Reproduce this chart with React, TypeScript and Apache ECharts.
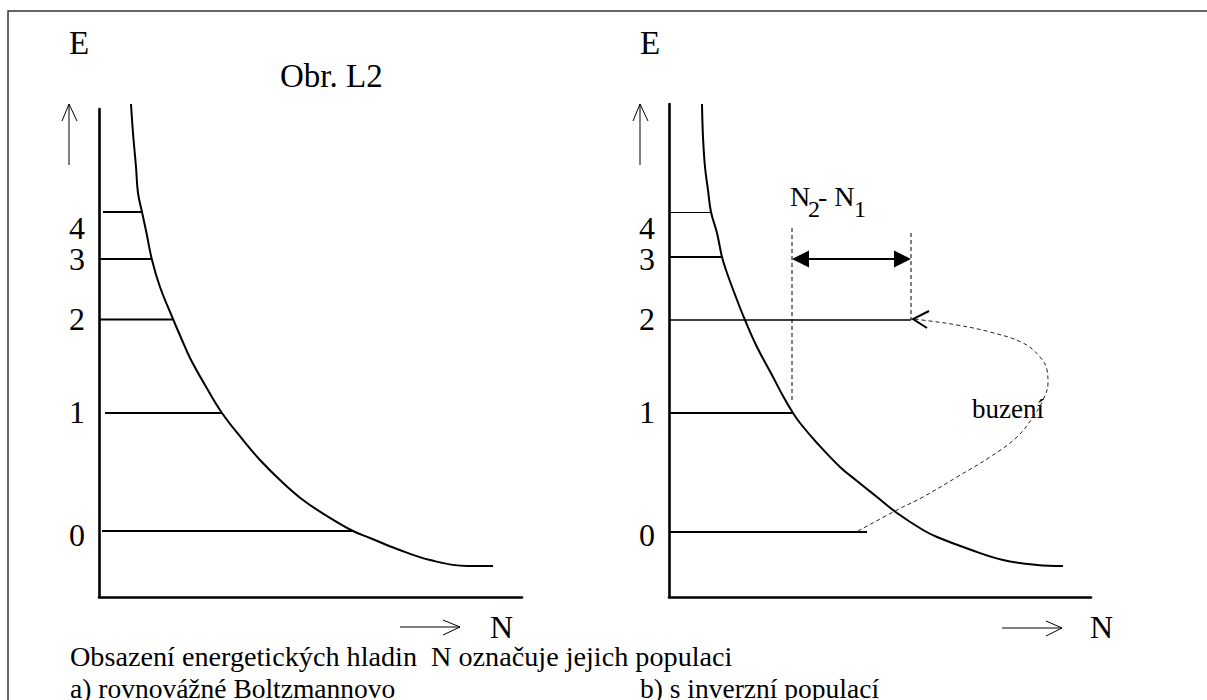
import React, { useEffect, useRef } from "react";
import * as echarts from "echarts";

// ---- data (N = population, E = energy; arbitrary units) ----
const levelNames = ["0", "1", "2", "3", "4"];
const levelLabelE = [6.2, 18.5, 27.8, 33.85, 36.9];
const leftLevelE = [6.6, 18.4, 27.75, 33.8, 38.5];
const leftLevelStartN = [0.3, 0.6, 0, 0, 0.4];
const leftLevelEndN = [25.4, 12.3, 7.4, 5.3, 4.4];
const rightLevelE = [6.5, 18.4, 27.7, 34.0, 38.45];
const rightLevelStartN = [0, 0, 0, 0, 0];
const rightLevelEndN = [19.8, 12.4, 24.2, 5.3, 4.2];

const leftCurveN = [3.2, 3.4, 3.7, 3.9, 4.3, 4.75, 5.3, 6.1, 7.4, 8.3, 9.1, 10.6, 12.3, 14.4, 16.1, 18.1, 20.4, 22.8, 25.4, 27.1, 29.8, 33.1, 36.8, 39.4];
const leftCurveE = [49.3, 46.4, 43.0, 40.4, 38.5, 36.4, 33.7, 31.0, 27.8, 25.7, 23.9, 21.2, 18.4, 15.7, 13.7, 11.7, 9.7, 8.1, 6.6, 5.9, 4.8, 3.7, 3.1, 3.1];

const rightCurveN = [3.3, 3.4, 3.6, 3.9, 4.2, 4.8, 5.3, 5.8, 6.8, 7.6, 8.8, 10.4, 11.4, 12.4, 13.1, 14.8, 17.1, 18.8, 20.8, 22.8, 25.4, 26.8, 30.1, 33.4, 36.8, 39.4];
const rightCurveE = [49.3, 46.0, 43.0, 40.7, 38.5, 36.4, 34.0, 32.4, 29.7, 27.7, 25.0, 22.0, 20.1, 18.4, 17.4, 15.4, 13.0, 11.6, 10.0, 8.4, 6.7, 6.0, 4.75, 3.7, 3.2, 3.1];

// excitation ("buzení") path from level 0 to level 2
const pumpN = [18.9, 22.8, 25.4, 28.8, 32.1, 34.8, 36.4, 37.4, 37.9, 37.8, 37.1, 35.4, 32.1, 28.8, 26.1, 24.4];
const pumpE = [6.6, 8.7, 10.0, 12.0, 14.0, 16.0, 18.0, 19.7, 21.4, 22.7, 24.0, 25.4, 26.5, 27.2, 27.6, 27.8];

// N2 - N1 marker
const gapN = [12.3, 24.2];
const gapTopE = [36.9, 36.4];
const gapBottomE = [19.5, 27.7];
const gapArrowE = 33.8;

const FONT = '"Liberation Serif", "Times New Roman", serif';

export default function App() {
  const ref = useRef<HTMLDivElement>(null);
  useEffect(() => {
    document.body.style.margin = "0";
    const chart = echarts.init(ref.current!, null, { renderer: "svg" });

    const axisCommon: any = {
      type: "value",
      axisTick: { show: false },
      axisLabel: { show: false },
      splitLine: { show: false },
      axisLine: { show: true, onZero: false, lineStyle: { color: "#000", width: 2.6 } },
    };

    const lineBase: any = {
      type: "line",
      symbol: "none",
      showSymbol: false,
      clip: false,
      silent: true,
      z: 3,
    };

    const series: any[] = [];
    levelNames.forEach((_, i) => {
      series.push({
        ...lineBase,
        xAxisIndex: 0,
        yAxisIndex: 0,
        data: [[leftLevelStartN[i], leftLevelE[i]], [leftLevelEndN[i], leftLevelE[i]]],
        lineStyle: { color: "#000", width: 2 },
      });
    });
    const rightWidths = [2.2, 2.2, 1.3, 2.2, 1.1];
    levelNames.forEach((_, i) => {
      series.push({
        ...lineBase,
        xAxisIndex: 1,
        yAxisIndex: 1,
        data: [[rightLevelStartN[i], rightLevelE[i]], [rightLevelEndN[i], rightLevelE[i]]],
        lineStyle: { color: "#000", width: rightWidths[i] },
      });
    });
    series.push({
      ...lineBase,
      xAxisIndex: 0,
      yAxisIndex: 0,
      smooth: 0.4,
      data: leftCurveN.map((n, i) => [n, leftCurveE[i]]),
      lineStyle: { color: "#000", width: 2 },
    });
    series.push({
      ...lineBase,
      xAxisIndex: 1,
      yAxisIndex: 1,
      smooth: 0.4,
      data: rightCurveN.map((n, i) => [n, rightCurveE[i]]),
      lineStyle: { color: "#000", width: 2 },
    });
    gapN.forEach((n, i) => {
      series.push({
        ...lineBase,
        xAxisIndex: 1,
        yAxisIndex: 1,
        data: [[n, gapTopE[i]], [n, gapBottomE[i]]],
        lineStyle: { color: "#000", width: 1, type: [4, 3] },
      });
    });
    series.push({
      ...lineBase,
      xAxisIndex: 1,
      yAxisIndex: 1,
      smooth: 0.4,
      data: pumpN.map((n, i) => [n, pumpE[i]]),
      lineStyle: { color: "#222", width: 1, type: [4, 3] },
    });
    series.push({
      type: "custom",
      xAxisIndex: 1,
      yAxisIndex: 1,
      silent: true,
      z: 4,
      data: [[gapN[0], gapN[1], gapArrowE]],
      encode: { x: [0, 1], y: 2 },
      renderItem: (_p: any, api: any) => {
        const a = api.coord([api.value(0), api.value(2)]);
        const b = api.coord([api.value(1), api.value(2)]);
        return {
          type: "group",
          children: [
            { type: "line", shape: { x1: a[0] + 10, y1: a[1], x2: b[0] - 10, y2: b[1] }, style: { stroke: "#000", lineWidth: 2 } },
            { type: "polygon", shape: { points: [[a[0], a[1]], [a[0] + 17, a[1] - 8.5], [a[0] + 17, a[1] + 8.5]] }, style: { fill: "#000" } },
            { type: "polygon", shape: { points: [[b[0], b[1]], [b[0] - 17, b[1] - 8.5], [b[0] - 17, b[1] + 8.5]] }, style: { fill: "#000" } },
          ],
        };
      },
    });
    series.push({
      type: "custom",
      xAxisIndex: 1,
      yAxisIndex: 1,
      silent: true,
      z: 4,
      data: [[pumpN[pumpN.length - 1], pumpE[pumpE.length - 1]]],
      renderItem: (_p: any, api: any) => {
        const t = api.coord([api.value(0), api.value(1)]);
        return {
          type: "polyline",
          shape: { points: [[t[0] + 16, t[1] - 8], [t[0], t[1]], [t[0] + 14, t[1] + 9]] },
          style: { stroke: "#000", lineWidth: 2, fill: "none" },
        };
      },
    });
    [0, 1].forEach((g) => {
      series.push({
        type: "custom",
        xAxisIndex: g,
        yAxisIndex: g,
        silent: true,
        z: 5,
        data: levelNames.map((_, i) => [-2.2, levelLabelE[i]]),
        renderItem: (p: any, api: any) => {
          const c = api.coord([api.value(0), api.value(1)]);
          return {
            type: "text",
            x: c[0],
            y: c[1],
            style: {
              text: levelNames[p.dataIndex],
              font: `32px ${FONT}`,
              fill: "#000",
              align: "center",
              verticalAlign: "middle",
            },
          };
        },
      });
    });

    const txt = (text: string, x: number, y: number, size: number, align = "left") => ({
      type: "text",
      x,
      y,
      silent: true,
      style: { text, font: `${size}px ${FONT}`, fill: "#000", align, verticalAlign: "middle" },
    });
    const ln = (x1: number, y1: number, x2: number, y2: number, w = 1, color = "#000") => ({
      type: "line",
      silent: true,
      shape: { x1, y1, x2, y2 },
      style: { stroke: color, lineWidth: w },
    });
    const pl = (points: number[][], w = 1, color = "#000") => ({
      type: "polyline",
      silent: true,
      shape: { points },
      style: { stroke: color, lineWidth: w, fill: "none" },
    });

    chart.setOption({
      animation: false,
      backgroundColor: "#fff",
      grid: [
        { left: 99, top: 109, width: 423, height: 488 },
        { left: 669, top: 104, width: 422, height: 493 },
      ],
      xAxis: [
        { ...axisCommon, gridIndex: 0, min: 0, max: 42.3 },
        { ...axisCommon, gridIndex: 1, min: 0, max: 42.2 },
      ],
      yAxis: [
        { ...axisCommon, gridIndex: 0, min: 0, max: 48.8 },
        { ...axisCommon, gridIndex: 1, min: 0, max: 49.3 },
      ],
      series,
      graphic: [
        pl([[8, 702], [8, 11], [1210, 11]], 1.5, "#333"),
        ln(69, 104, 69, 165),
        pl([[62, 121], [69, 104], [77, 121]]),
        ln(640, 104, 640, 165),
        pl([[633, 121], [640, 104], [648, 121]]),
        ln(400, 627, 460, 627),
        pl([[443, 620], [460, 627], [443, 635]]),
        ln(1002, 628, 1062, 628),
        pl([[1046, 621], [1062, 628], [1046, 636]]),
        txt("E", 69, 43, 33),
        txt("E", 640, 43, 33),
        txt("Obr. L2", 280, 76, 33),
        txt("N", 490, 627, 32),
        txt("N", 1090, 627, 32),
        txt("N", 790, 196, 28),
        txt("2", 808, 209, 24),
        txt("- N", 818, 196, 28),
        txt("1", 854, 209, 24),
        txt("buzení", 972, 409, 27),
        txt("Obsazení energetických hladin  N označuje jejich populaci", 70, 656, 28.2),
        txt("a) rovnovážné Boltzmannovo", 70, 688, 27.5),
        txt("b) s inverzní populací", 640, 688, 27.5),
      ],
    });
    return () => chart.dispose();
  }, []);
  return <div ref={ref} style={{ width: 1207, height: 700 }} />;
}
